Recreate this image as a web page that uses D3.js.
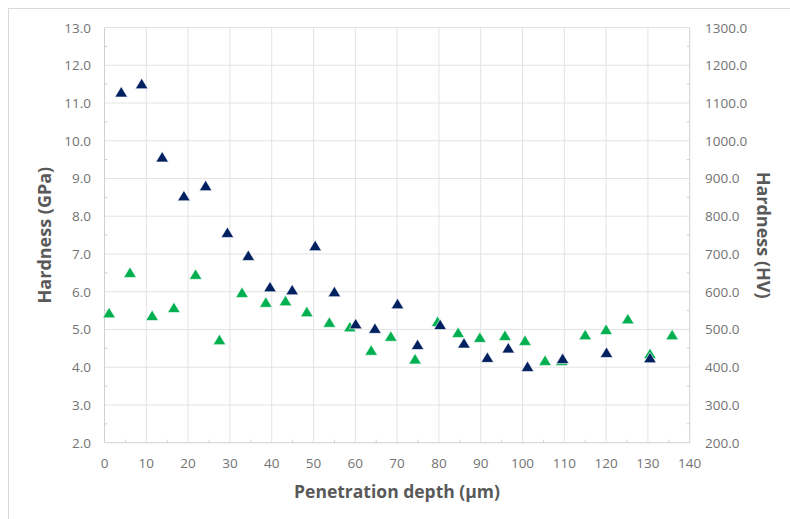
<!DOCTYPE html>
<html><head><meta charset="utf-8">
<script src="https://cdn.jsdelivr.net/npm/d3@7/dist/d3.min.js"></script>
<style>
html,body{margin:0;padding:0;background:#fff;}
svg{display:block;font-family:"Open Sans",sans-serif;}
</style></head><body>
<svg id="c" width="790" height="519"></svg>
<script>
// Navy series: hardness in GPa (left axis)
const gpaDepth = [4.0, 8.9, 13.8, 19.0, 24.2, 29.4, 34.4, 39.6, 44.9, 50.4, 55.0, 60.1, 64.7, 70.1, 74.9, 80.3, 86.0, 91.6, 96.6, 101.2, 109.6, 120.1, 130.5];
const gpaValues = [11.28, 11.5, 9.56, 8.53, 8.8, 7.56, 6.95, 6.12, 6.04, 7.21, 5.99, 5.14, 5.02, 5.67, 4.59, 5.12, 4.63, 4.25, 4.5, 4.01, 4.22, 4.38, 4.24];
// Green series: hardness in HV (right axis)
const hvDepth = [1.1, 6.1, 11.4, 16.6, 21.8, 27.5, 32.9, 38.6, 43.3, 48.4, 53.8, 58.7, 63.8, 68.5, 74.3, 79.7, 84.6, 89.8, 95.8, 100.6, 105.4, 109.4, 115.0, 120.0, 125.2, 130.5, 135.8];
const hvValues = [543, 650, 536, 557, 645, 472, 597, 571, 575, 546, 518, 506, 444, 481, 421, 520, 491, 478, 483, 470, 417, 417, 485, 499, 527, 435, 485];
// Ticks
const xTicks = [0,10,20,30,40,50,60,70,80,90,100,110,120,130,140];
const leftTicks = [2,3,4,5,6,7,8,9,10,11,12,13];
const rightTicks = [200,300,400,500,600,700,800,900,1000,1100,1200,1300];

const svg = d3.select("#c");
const L = 104.5, R = 689.7, T = 27.5, B = 442.7;
const x = d3.scaleLinear().domain([0,140]).range([L,R]);
const yL = d3.scaleLinear().domain([2,13]).range([B,T]);
const yR = d3.scaleLinear().domain([200,1300]).range([B,T]);

// outer border
svg.append("rect").attr("x",8.5).attr("y",8.5).attr("width",800).attr("height",520)
  .attr("fill","none").attr("stroke","#d9d9d9");

const grid = svg.append("g").attr("stroke","#e3e3e3").attr("stroke-width",1);
xTicks.slice(1,-1).forEach(t=>grid.append("line").attr("x1",x(t)).attr("x2",x(t)).attr("y1",T).attr("y2",B));
leftTicks.slice(1).forEach(t=>grid.append("line").attr("x1",L).attr("x2",R).attr("y1",yL(t)).attr("y2",yL(t)));

// axes lines
const ax = svg.append("g").attr("stroke","#d0d0d0").attr("stroke-width",1);
ax.append("line").attr("x1",L).attr("x2",L).attr("y1",T).attr("y2",B);
ax.append("line").attr("x1",R).attr("x2",R).attr("y1",T).attr("y2",B);
ax.append("line").attr("x1",L).attr("x2",R).attr("y1",B).attr("y2",B);
// minor ticks
d3.range(5,140,10).forEach(t=>ax.append("line").attr("x1",x(t)).attr("x2",x(t)).attr("y1",B).attr("y2",B-3));
d3.range(2.5,13,1).forEach(t=>ax.append("line").attr("x1",L).attr("x2",L+3).attr("y1",yL(t)).attr("y2",yL(t)));
d3.range(250,1300,100).forEach(t=>ax.append("line").attr("x1",R).attr("x2",R-3).attr("y1",yR(t)).attr("y2",yR(t)));

const tickCol = "#737373";
svg.append("g").selectAll("text").data(xTicks).join("text")
  .attr("x",d=>x(d)).attr("y",468).attr("text-anchor","middle")
  .attr("font-size",13.5).attr("fill",tickCol).text(d=>d);
svg.append("g").selectAll("text").data(leftTicks).join("text")
  .attr("x",91).attr("y",d=>yL(d)+5).attr("text-anchor","end")
  .attr("font-size",13.5).attr("fill",tickCol).text(d=>d.toFixed(1));
svg.append("g").selectAll("text").data(rightTicks).join("text")
  .attr("x",705).attr("y",d=>yR(d)+5).attr("text-anchor","start")
  .attr("font-size",13.5).attr("fill",tickCol).text(d=>d.toFixed(1));

// titles
const titleCol = "#595959";
svg.append("text").attr("x",397).attr("y",498).attr("text-anchor","middle")
  .attr("font-size",17.5).attr("font-weight","bold").attr("fill",titleCol).text("Penetration depth (µm)");
svg.append("text").attr("transform",`translate(51,${(T+B)/2}) rotate(-90)`).attr("text-anchor","middle")
  .attr("font-size",18).attr("font-weight","bold").attr("fill",titleCol).text("Hardness (GPa)");
svg.append("text").attr("transform",`translate(757,${(T+B)/2}) rotate(90)`).attr("text-anchor","middle")
  .attr("font-size",18).attr("font-weight","bold").attr("fill",titleCol).text("Hardness (HV)");

const tri = "M0,-5.8L6.3,4.6L-6.3,4.6Z";
svg.append("g").selectAll("path").data(hvDepth.map((d,i)=>[d,hvValues[i]])).join("path")
  .attr("d",tri).attr("transform",d=>`translate(${x(d[0])},${yR(d[1])})`)
  .attr("fill","#00b050").attr("stroke","#ffffff").attr("stroke-width",0.6);
svg.append("g").selectAll("path").data(gpaDepth.map((d,i)=>[d,gpaValues[i]])).join("path")
  .attr("d",tri).attr("transform",d=>`translate(${x(d[0])},${yL(d[1])})`)
  .attr("fill","#002060").attr("stroke","#ffffff").attr("stroke-width",0.6);
</script></body></html>
